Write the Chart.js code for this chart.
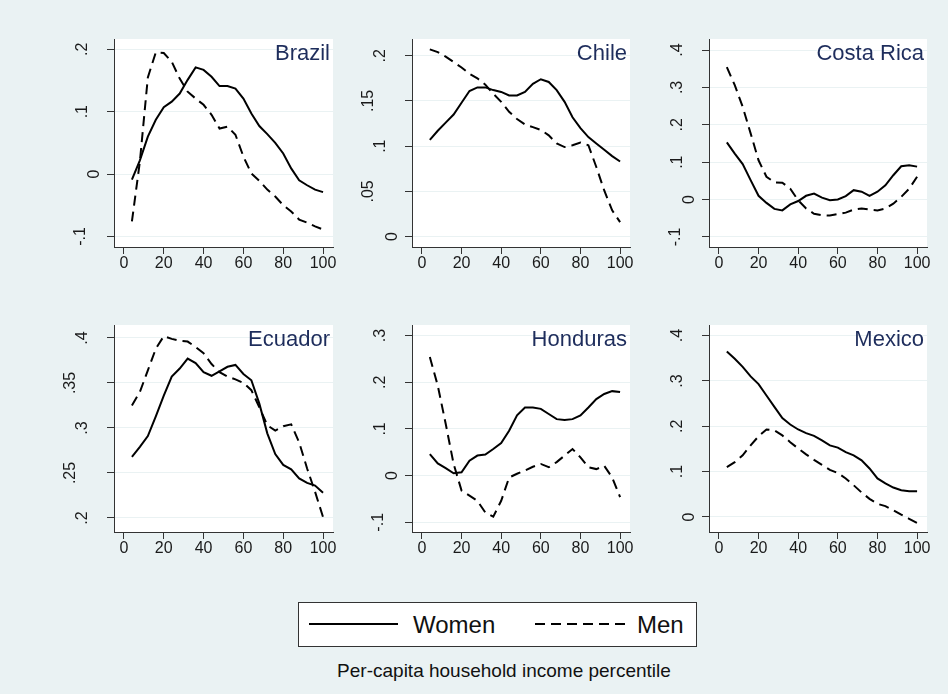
<!DOCTYPE html>
<html>
<head>
<meta charset="utf-8">
<script src="https://cdn.jsdelivr.net/npm/chart.js@4.4.0/dist/chart.umd.min.js"></script>
<style>
  html, body { margin: 0; padding: 0; }
  body { width: 948px; height: 694px; background: #eaf2f3; position: relative; overflow: hidden; }
  canvas.panel { position: absolute; }
  #overlay { position: absolute; left: 0; top: 0; }
</style>
</head>
<body>
<svg id="overlay" width="948" height="694" font-family="'Liberation Sans', Arial, sans-serif">
  <rect x="298.5" y="602.5" width="398" height="44" fill="#fff" stroke="#333" stroke-width="1"/>
  <line x1="309" y1="624" x2="398" y2="624" stroke="#000" stroke-width="2"/>
  <text x="413" y="633" font-size="24" fill="#111">Women</text>
  <line x1="535" y1="624" x2="626" y2="624" stroke="#000" stroke-width="2" stroke-dasharray="10 6"/>
  <text x="637" y="633" font-size="24" fill="#111">Men</text>
  <text x="504" y="677" font-size="19" fill="#111" text-anchor="middle">Per-capita household income percentile</text>
</svg>
<script>
// income percentile (x) shared by every panel
const pctl = [4, 8, 12, 16, 20, 24, 28, 32, 36, 40, 44, 48, 52, 56, 60, 64, 68, 72, 76, 80, 84, 88, 92, 96, 100];
const xTicks = [0, 20, 40, 60, 80, 100];

const countries = ['Brazil', 'Chile', 'Costa Rica', 'Ecuador', 'Honduras', 'Mexico'];

const brazilWomen = [-0.009, 0.022, 0.060, 0.087, 0.107, 0.116, 0.129, 0.151, 0.171, 0.167, 0.156, 0.141, 0.141, 0.137, 0.121, 0.097, 0.077, 0.064, 0.050, 0.033, 0.009, -0.010, -0.018, -0.025, -0.029];
const brazilMen = [-0.076, 0.020, 0.155, 0.195, 0.194, 0.180, 0.153, 0.132, 0.121, 0.111, 0.095, 0.073, 0.076, 0.063, 0.028, 0.001, -0.011, -0.025, -0.036, -0.050, -0.060, -0.073, -0.078, -0.084, -0.089];

const chileWomen = [0.107, 0.117, 0.126, 0.135, 0.148, 0.161, 0.165, 0.165, 0.162, 0.160, 0.156, 0.156, 0.160, 0.169, 0.174, 0.171, 0.162, 0.149, 0.132, 0.120, 0.110, 0.103, 0.096, 0.089, 0.083];
const chileMen = [0.207, 0.204, 0.199, 0.193, 0.187, 0.180, 0.175, 0.168, 0.158, 0.149, 0.138, 0.130, 0.124, 0.121, 0.118, 0.112, 0.103, 0.099, 0.101, 0.104, 0.101, 0.077, 0.051, 0.029, 0.016];

const costaRicaWomen = [0.153, 0.123, 0.095, 0.052, 0.010, -0.009, -0.025, -0.029, -0.013, -0.004, 0.010, 0.016, 0.005, -0.002, 0.000, 0.009, 0.025, 0.021, 0.010, 0.021, 0.038, 0.065, 0.089, 0.092, 0.088];
const costaRicaMen = [0.354, 0.306, 0.248, 0.177, 0.105, 0.061, 0.046, 0.045, 0.029, -0.002, -0.024, -0.038, -0.042, -0.043, -0.039, -0.035, -0.027, -0.024, -0.027, -0.029, -0.024, -0.011, 0.007, 0.029, 0.061];

const ecuadorWomen = [0.268, 0.279, 0.291, 0.313, 0.336, 0.357, 0.366, 0.377, 0.372, 0.362, 0.358, 0.363, 0.368, 0.370, 0.360, 0.353, 0.327, 0.294, 0.271, 0.259, 0.254, 0.244, 0.239, 0.236, 0.228];
const ecuadorMen = [0.325, 0.340, 0.364, 0.388, 0.402, 0.399, 0.397, 0.396, 0.390, 0.383, 0.371, 0.362, 0.357, 0.354, 0.350, 0.342, 0.323, 0.303, 0.297, 0.302, 0.304, 0.284, 0.255, 0.229, 0.201];

const hondurasWomen = [0.046, 0.026, 0.016, 0.005, 0.007, 0.032, 0.043, 0.045, 0.057, 0.070, 0.096, 0.129, 0.146, 0.146, 0.143, 0.132, 0.121, 0.119, 0.121, 0.129, 0.146, 0.164, 0.175, 0.181, 0.179];
const hondurasMen = [0.254, 0.193, 0.111, 0.025, -0.032, -0.043, -0.054, -0.079, -0.088, -0.054, -0.004, 0.004, 0.011, 0.019, 0.025, 0.018, 0.029, 0.043, 0.057, 0.039, 0.018, 0.014, 0.021, -0.004, -0.046];

const mexicoWomen = [0.365, 0.349, 0.331, 0.310, 0.293, 0.268, 0.243, 0.218, 0.204, 0.193, 0.185, 0.179, 0.169, 0.158, 0.153, 0.143, 0.136, 0.125, 0.107, 0.085, 0.074, 0.065, 0.059, 0.057, 0.057];
const mexicoMen = [0.110, 0.121, 0.136, 0.158, 0.178, 0.193, 0.191, 0.180, 0.165, 0.151, 0.138, 0.126, 0.115, 0.104, 0.097, 0.085, 0.070, 0.054, 0.040, 0.029, 0.024, 0.015, 0.005, -0.004, -0.013];

// y tick values and their Stata-style labels
const brazilTicks = [-0.1, 0, 0.1, 0.2];
const brazilTickLabels = ['-.1', '0', '.1', '.2'];
const chileTicks = [0, 0.05, 0.1, 0.15, 0.2];
const chileTickLabels = ['0', '.05', '.1', '.15', '.2'];
const costaRicaTicks = [-0.1, 0, 0.1, 0.2, 0.3, 0.4];
const costaRicaTickLabels = ['-.1', '0', '.1', '.2', '.3', '.4'];
const ecuadorTicks = [0.2, 0.25, 0.3, 0.35, 0.4];
const ecuadorTickLabels = ['.2', '.25', '.3', '.35', '.4'];
const hondurasTicks = [-0.1, 0, 0.1, 0.2, 0.3];
const hondurasTickLabels = ['-.1', '0', '.1', '.2', '.3'];
const mexicoTicks = [0, 0.1, 0.2, 0.3, 0.4];
const mexicoTickLabels = ['0', '.1', '.2', '.3', '.4'];

const FONT = "'Liberation Sans', Arial, sans-serif";
const padL = 60, padT = 6, padR = 6, padB = 40;

// plot-area placement and y range of each panel
const panels = [
  { women: brazilWomen, men: brazilMen, ticks: brazilTicks, labels: brazilTickLabels, x: 114, y: 39, w: 219, h: 208, min: -0.117, max: 0.2165 },
  { women: chileWomen, men: chileMen, ticks: chileTicks, labels: chileTickLabels, x: 412, y: 39, w: 218, h: 208, min: -0.0115, max: 0.2185 },
  { women: costaRicaWomen, men: costaRicaMen, ticks: costaRicaTicks, labels: costaRicaTickLabels, x: 709, y: 39, w: 218, h: 208, min: -0.127, max: 0.4295 },
  { women: ecuadorWomen, men: ecuadorMen, ticks: ecuadorTicks, labels: ecuadorTickLabels, x: 114, y: 325, w: 219, h: 207, min: 0.1844, max: 0.4144 },
  { women: hondurasWomen, men: hondurasMen, ticks: hondurasTicks, labels: hondurasTickLabels, x: 412, y: 325, w: 218, h: 207, min: -0.1208, max: 0.3227 },
  { women: mexicoWomen, men: mexicoMen, ticks: mexicoTicks, labels: mexicoTickLabels, x: 709, y: 325, w: 218, h: 207, min: -0.0331, max: 0.4234 }
];

const toPoints = (ys) => pctl.map((x, i) => ({ x, y: ys[i] }));

panels.forEach((p, idx) => {
  const canvas = document.createElement('canvas');
  canvas.className = 'panel';
  canvas.width = padL + p.w + padR;
  canvas.height = padT + p.h + padB;
  canvas.style.left = (p.x - padL) + 'px';
  canvas.style.top = (p.y - padT) + 'px';
  document.body.appendChild(canvas);

  // white plot region, rotated y labels (longer labels sit further out) and the panel title
  const panelText = {
    id: 'panelText',
    beforeDraw(chart) {
      const { ctx, chartArea } = chart;
      ctx.save();
      ctx.fillStyle = '#fff';
      ctx.fillRect(chartArea.left, chartArea.top, chartArea.right - chartArea.left, chartArea.bottom - chartArea.top);
      ctx.restore();
    },
    afterDraw(chart) {
      const { ctx, chartArea, scales: { y } } = chart;
      ctx.save();
      ctx.fillStyle = '#1a1a1a';
      ctx.font = '16px ' + FONT;
      ctx.textAlign = 'center';
      ctx.textBaseline = 'middle';
      p.ticks.forEach((v, i) => {
        const lab = p.labels[i];
        const n = lab.replace('-', '').length;
        const dist = 19 + 12 * (n - 1) + (lab.includes('-') ? 2 : 0);
        ctx.save();
        ctx.translate(chartArea.left - dist, y.getPixelForValue(v));
        ctx.rotate(-Math.PI / 2);
        ctx.fillText(lab, 0, 0);
        ctx.restore();
      });
      ctx.fillStyle = '#1e2d5c';
      ctx.font = '22px ' + FONT;
      ctx.textAlign = 'right';
      ctx.textBaseline = 'alphabetic';
      ctx.fillText(countries[idx], chartArea.right - 3, chartArea.top + 21);
      ctx.restore();
    }
  };

  new Chart(canvas, {
    type: 'line',
    data: {
      datasets: [
        { label: 'Women', data: toPoints(p.women), borderColor: '#000', borderWidth: 2 },
        { label: 'Men', data: toPoints(p.men), borderColor: '#000', borderWidth: 2, borderDash: [10, 6] }
      ]
    },
    options: {
      responsive: false,
      animation: false,
      layout: { padding: { top: padT, right: padR, left: 0, bottom: 0 } },
      elements: { point: { radius: 0 }, line: { tension: 0 } },
      plugins: { legend: { display: false }, tooltip: { enabled: false } },
      scales: {
        x: {
          type: 'linear', min: -5, max: 105,
          afterBuildTicks: (s) => { s.ticks = xTicks.map(v => ({ value: v })); },
          afterFit: (s) => { s.height = padB; },
          grid: { drawOnChartArea: false, tickLength: 7, tickColor: '#333' },
          border: { color: '#333', width: 1 },
          ticks: { color: '#1a1a1a', font: { family: FONT, size: 16 }, padding: 0, maxRotation: 0, autoSkip: false }
        },
        y: {
          type: 'linear', min: p.min, max: p.max,
          afterBuildTicks: (s) => { s.ticks = p.ticks.map(v => ({ value: v })); },
          afterFit: (s) => { s.width = padL; },
          grid: { color: '#eaf2f3', lineWidth: 1, tickLength: 7, tickColor: '#333' },
          border: { color: '#333', width: 1 },
          ticks: { display: false }
        }
      }
    },
    plugins: [panelText]
  });
});
</script>
</body>
</html>
